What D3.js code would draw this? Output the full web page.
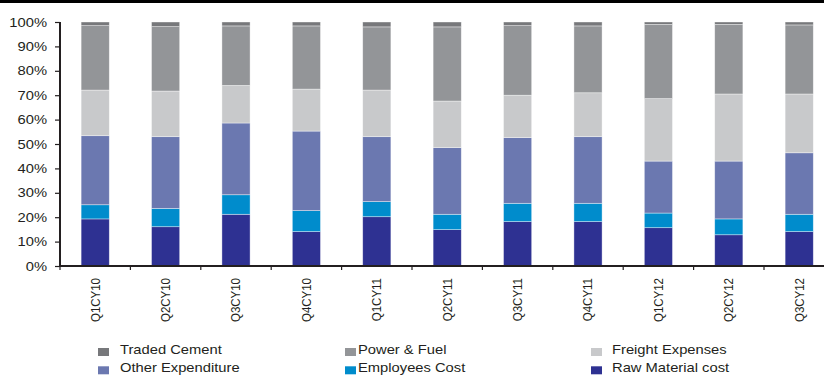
<!DOCTYPE html>
<html>
<head>
<meta charset="utf-8">
<script src="https://cdn.jsdelivr.net/npm/d3@7/dist/d3.min.js"></script>
<style>
  html, body { margin: 0; padding: 0; background: #fff; }
  svg { display: block; font-family: "Liberation Sans", Arial, sans-serif; }
</style>
</head>
<body>
<svg id="chart" width="824" height="376"></svg>
<script>
// Quarterly cost structure, share of total (%)
const categories = ["Q1CY10", "Q2CY10", "Q3CY10", "Q4CY10", "Q1CY11", "Q2CY11",
                    "Q3CY11", "Q4CY11", "Q1CY12", "Q2CY12", "Q3CY12"];

const rawMaterial   = [19.3, 16.1, 21.2, 14.1, 20.2, 14.9, 18.2, 18.2, 15.7, 12.8, 14.1];
const employees     = [ 5.8,  7.5,  8.0,  8.6,  6.2,  6.3,  7.5,  7.5,  6.0,  6.5,  7.1];
const otherExp      = [28.3, 29.4, 29.4, 32.6, 26.6, 27.3, 26.9, 27.3, 21.3, 23.7, 25.2];
const freight       = [18.7, 18.7, 15.4, 17.2, 19.1, 19.1, 17.4, 18.0, 25.6, 27.5, 24.1];
const powerFuel     = [26.4, 26.4, 24.4, 25.9, 25.9, 30.4, 28.5, 27.4, 30.4, 28.5, 28.3];
const tradedCement  = [ 1.5,  1.9,  1.6,  1.6,  2.0,  2.0,  1.5,  1.6,  1.0,  1.0,  1.2];

const yTicks = [0, 10, 20, 30, 40, 50, 60, 70, 80, 90, 100];

// Stack order, bottom to top
const series = [
  { key: "raw",     name: "Raw Material cost",  values: rawMaterial,  color: "#2e3192" },
  { key: "emp",     name: "Employees Cost",     values: employees,    color: "#008ccc" },
  { key: "other",   name: "Other Expenditure",  values: otherExp,     color: "#6b78b0" },
  { key: "freight", name: "Freight Expenses",   values: freight,      color: "#c8c9cb" },
  { key: "power",   name: "Power & Fuel",       values: powerFuel,    color: "#939598" },
  { key: "traded",  name: "Traded Cement",      values: tradedCement, color: "#77787b" }
];

// Legend reads row by row: top-left first
const legendOrder = ["traded", "power", "freight", "other", "emp", "raw"];

const svg = d3.select("#chart");
const ink = "#231f20";
const stretch = 1.18;   // wide lettering

// top rule
svg.append("rect").attr("x", 0).attr("y", 0).attr("width", 824).attr("height", 3).attr("fill", "#000");

const x0 = 60, yBottom = 266, yTop = 22;
const step = 70.4;

const x = d3.scaleBand()
  .domain(categories)
  .range([x0, x0 + step * categories.length])
  .paddingInner(0.6)
  .paddingOuter(0.3);

const y = d3.scaleLinear().domain([0, 100]).range([yBottom, yTop]);

const table = categories.map((c, i) => {
  const row = { cat: c };
  series.forEach(s => row[s.key] = s.values[i]);
  return row;
});

const stack = d3.stack().keys(series.map(s => s.key));
const stacked = stack(table);

const g = svg.append("g");
stacked.forEach((layer, li) => {
  g.append("g")
    .attr("fill", series[li].color)
    .selectAll("rect")
    .data(layer)
    .join("rect")
    .attr("x", d => x(d.data.cat))
    .attr("width", x.bandwidth())
    .attr("y", d => y(d[1]))
    .attr("height", d => y(d[0]) - y(d[1]))
    .attr("stroke", "#ffffff")
    .attr("stroke-opacity", 0.55)
    .attr("stroke-width", 0.7);
});

// y axis
const yAxis = d3.axisLeft(y).tickValues(yTicks).tickSize(5).tickPadding(8)
  .tickFormat(d => d + "%");
const ya = svg.append("g").attr("transform", `translate(${x0},0)`).call(yAxis);
ya.select(".domain").attr("stroke", ink).attr("stroke-width", 2).attr("d", `M0,${yTop}V${yBottom}`);
ya.selectAll(".tick line").attr("stroke", ink).attr("stroke-width", 1.2);
ya.selectAll(".tick text").each(function () {
  const t = d3.select(this);
  const tx = +t.attr("x");
  t.attr("x", null)
    .attr("transform", `translate(${tx},0) scale(${stretch},1)`)
    .attr("font-size", 12.5)
    .attr("fill", ink)
    .attr("font-family", "'Liberation Sans', Arial, sans-serif");
});

// x axis: ticks sit on band boundaries
const xa = svg.append("g").attr("transform", `translate(0,${yBottom})`);
xa.append("line").attr("x1", x0).attr("x2", 824).attr("y1", 0).attr("y2", 0)
  .attr("stroke", ink).attr("stroke-width", 2);
const boundaries = d3.range(categories.length + 1).map(i => x0 + i * x.step());
xa.selectAll("line.tk").data(boundaries).join("line").attr("class", "tk")
  .attr("x1", d => d).attr("x2", d => d).attr("y1", 0).attr("y2", 4)
  .attr("stroke", ink).attr("stroke-width", 1.2);

xa.selectAll("text").data(categories).join("text")
  .attr("transform", d => `translate(${x(d) + x.bandwidth() / 2},12) rotate(-90) scale(1,${stretch})`)
  .attr("text-anchor", "end")
  .attr("dominant-baseline", "central")
  .attr("font-size", 11.5)
  .attr("fill", ink)
  .text(d => d);

// legend
const markX = [98, 345, 591];
const textX = [120, 358, 612];
const rowY = [350, 368.3];
const legend = svg.append("g");
legendOrder.forEach((k, i) => {
  const s = series.find(d => d.key === k);
  const col = i % 3, cy = rowY[Math.floor(i / 3)];
  legend.append("rect").attr("x", markX[col]).attr("y", cy - 2).attr("width", 11).attr("height", 8)
    .attr("fill", s.color);
  legend.append("text")
    .attr("transform", `translate(${textX[col]},${cy}) scale(${stretch},1)`)
    .attr("dominant-baseline", "central")
    .attr("font-size", 12.5)
    .attr("fill", ink)
    .text(s.name);
});
</script>
</body>
</html>
